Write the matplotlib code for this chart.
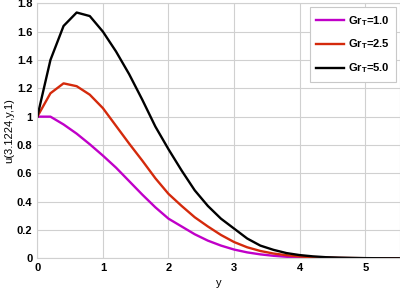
import matplotlib
matplotlib.use("Agg")
import matplotlib.pyplot as plt

plt.rcParams["font.family"] = "Liberation Sans"
plt.rcParams["font.weight"] = "bold"
plt.rcParams["mathtext.fontset"] = "custom"
plt.rcParams["mathtext.rm"] = "Liberation Sans:bold"
plt.rcParams["mathtext.bf"] = "Liberation Sans:bold"

y = [0.0, 0.2, 0.4, 0.6, 0.8, 1.0, 1.2, 1.4, 1.6, 1.8, 2.0, 2.2, 2.4, 2.6, 2.8,
     3.0, 3.2, 3.4, 3.6, 3.8, 4.0, 4.2, 4.4, 4.6, 4.8, 5.0, 5.2, 5.4, 5.6]

u_gr1 = [1.0, 1.0, 0.945, 0.88, 0.805, 0.725, 0.64, 0.545, 0.45, 0.36, 0.28, 0.225,
         0.17, 0.125, 0.09, 0.062, 0.042, 0.028, 0.018, 0.011, 0.007, 0.004, 0.0025,
         0.0015, 0.001, 0.0005, 0.0003, 0.0002, 0.0001]
u_gr25 = [1.0, 1.165, 1.235, 1.215, 1.155, 1.06, 0.935, 0.81, 0.69, 0.565, 0.455, 0.37,
          0.29, 0.225, 0.165, 0.115, 0.078, 0.052, 0.034, 0.022, 0.013, 0.008, 0.005,
          0.003, 0.002, 0.001, 0.0005, 0.0003, 0.0002]
u_gr5 = [1.0, 1.40, 1.64, 1.735, 1.71, 1.60, 1.46, 1.30, 1.12, 0.93, 0.77, 0.62,
         0.48, 0.37, 0.28, 0.21, 0.14, 0.09, 0.06, 0.037, 0.023, 0.014, 0.008, 0.005,
         0.003, 0.0015, 0.0008, 0.0004, 0.0002]

labels = [r"Gr$_\mathrm{T}$=1.0", r"Gr$_\mathrm{T}$=2.5", r"Gr$_\mathrm{T}$=5.0"]
colors = ["#c000c8", "#d42a0c", "black"]

fig = plt.figure(figsize=(4.0, 2.88), dpi=100)
ax = fig.add_axes([0.0933, 0.103, 0.9067, 0.8855])

for vals, lab, col in zip([u_gr1, u_gr25, u_gr5], labels, colors):
    ax.plot(y, vals, color=col, linewidth=1.7, label=lab)

ax.set_xlim(0, 5.53)
ax.set_ylim(0, 1.8)
ax.set_xticks([0, 1, 2, 3, 4, 5])
ax.set_yticks([0, 0.2, 0.4, 0.6, 0.8, 1.0, 1.2, 1.4, 1.6, 1.8])
ax.set_yticklabels(["0", "0.2", "0.4", "0.6", "0.8", "1", "1.2", "1.4", "1.6", "1.8"])
ax.tick_params(length=0, labelsize=8, pad=3.6)
ax.grid(True, color="#d0d0d0", linewidth=0.8)
for s in ax.spines.values():
    s.set_color("#d0d0d0")
    s.set_linewidth(0.8)

ax.set_xlabel("y", fontsize=8, labelpad=3)
ax.set_ylabel("u(3.1224,y,1)", fontsize=8, labelpad=2)

leg = ax.legend(loc="upper right", fontsize=8, fancybox=False, framealpha=1,
                edgecolor="#c8c8c8", handlelength=2.5, handletextpad=0.3,
                borderaxespad=0.35, labelspacing=0.9, borderpad=0.6)
leg.get_frame().set_linewidth(0.8)

fig.savefig("out.png", dpi=100)
